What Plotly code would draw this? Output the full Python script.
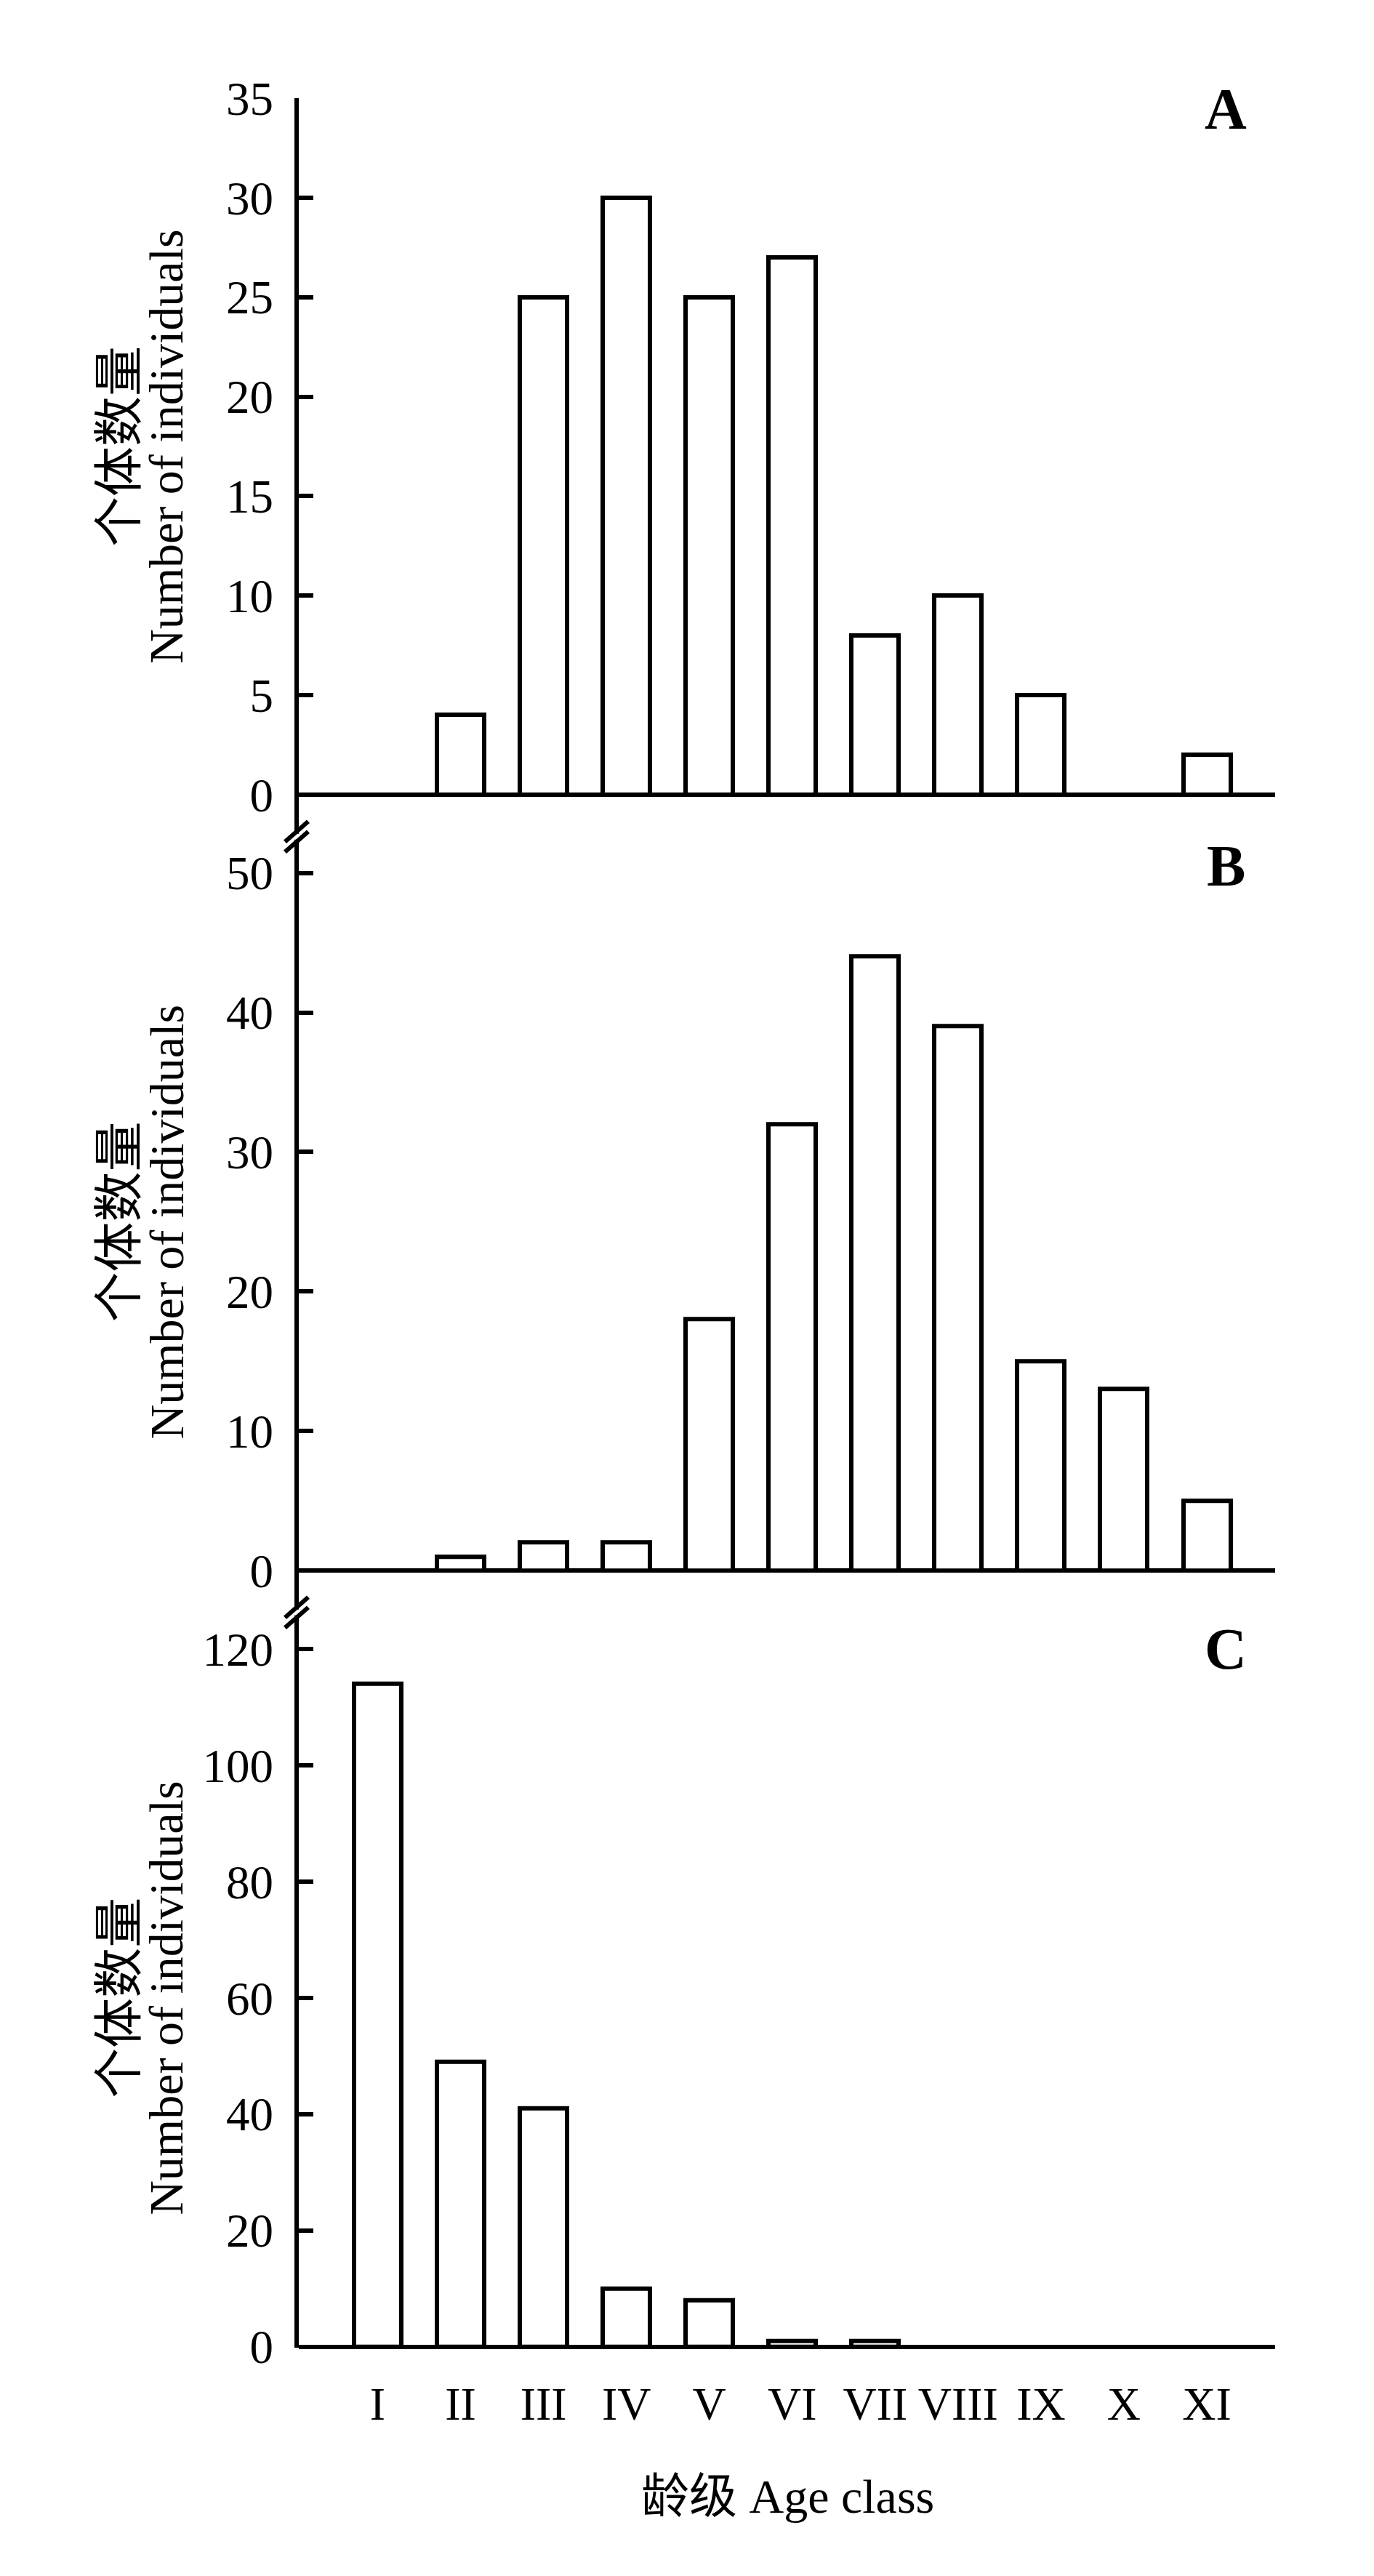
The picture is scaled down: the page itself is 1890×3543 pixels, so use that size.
import plotly.graph_objects as go

# ---------------- data ----------------
age_classes = ["I", "II", "III", "IV", "V", "VI", "VII", "VIII", "IX", "X", "XI"]
counts_a = [0, 4, 25, 30, 25, 27, 8, 10, 5, 0, 2]
counts_b = [0, 1, 2, 2, 18, 32, 44, 39, 15, 13, 5]
counts_c = [114, 49, 41, 10, 8, 1, 1, 0, 0, 0, 0]
panel_labels = ["A", "B", "C"]
tick_max = [35, 50, 120]
tick_step = [5, 10, 20]
y_title_cn = "个体数量"
y_title_en = "Number of individuals"
x_title = "龄级 Age class"

# ---------------- geometry (target pixels) ----------------
OFF = 8                                  # browser body margin
W, H = 1890 - 2 * OFF, 3543 - 2 * OFF
LW = 6
AX_X = 408                               # y-axis line centre
L, R = AX_X + LW / 2, 1754
zero_px = [1093, 2160.5, 3228]           # y pixel of value 0 in each panel
maxtick_px = [135, 1200.8, 2268.5]       # y pixel of the highest tick
PAD = 1.5                                # keep 0 just inside the range
dom_bot = [z + PAD for z in zero_px]
dom_top = [135, dom_bot[0], dom_bot[1]]
TOP, BOT = dom_top[0], dom_bot[2]
PH = BOT - TOP
break_px = [1151, 2218]
label_px = [150, 1191, 2268]
cat_first, cat_step = 519.5, 114.05

def ypap(p):
    return (BOT - p) / PH

def xpap(p):
    return (p - L) / (R - L)

FONT = "Liberation Serif, Times New Roman, Noto Sans CJK SC, serif"

fig = go.Figure()
series = [counts_a, counts_b, counts_c]
xr = [(L - cat_first) / cat_step, (R - cat_first) / cat_step]

for i, vals in enumerate(series):
    n = "" if i == 0 else str(i + 1)
    fig.add_trace(go.Bar(
        x=age_classes, y=vals, width=0.57,
        marker=dict(color="white",
                    line=dict(color="black", width=[LW if v else 0 for v in vals])),
        xaxis="x" + n, yaxis="y" + n, showlegend=False, hoverinfo="x+y",
    ))
    ppu = (zero_px[i] - maxtick_px[i]) / tick_max[i]
    rng = [(zero_px[i] - dom_bot[i]) / ppu, (zero_px[i] - dom_top[i]) / ppu]
    fig.layout["xaxis" + n] = dict(
        domain=[0, 1], anchor="y" + n, type="category", range=xr,
        showline=False, ticks="",
        showgrid=False, zeroline=False,
        showticklabels=(i == 2), ticklabelstandoff=34,
        tickfont=dict(family=FONT, size=64, color="black"),
    )
    fig.layout["yaxis" + n] = dict(
        domain=[ypap(dom_bot[i]), ypap(dom_top[i])], anchor="x" + n,
        range=rng,
        tickvals=list(range(0, tick_max[i] + 1, tick_step[i])),
        ticks="inside", ticklen=20, tickwidth=LW, tickcolor="black",
        showline=True, linecolor="black", linewidth=LW,
        showgrid=False,
        zeroline=True, zerolinecolor="black", zerolinewidth=LW,
        ticklabelstandoff=16,
        tickfont=dict(family=FONT, size=65, color="black"),
    )
    mid = (zero_px[i] + maxtick_px[i]) / 2
    fig.add_annotation(text=y_title_cn, textangle=-90, xref="paper", yref="paper",
                       x=xpap(165), y=ypap(mid), xanchor="center", yanchor="middle",
                       showarrow=False, font=dict(family=FONT, size=69, color="black"))
    fig.add_annotation(text=y_title_en, textangle=-90, xref="paper", yref="paper",
                       x=xpap(229), y=ypap(mid), xanchor="center", yanchor="middle",
                       showarrow=False, font=dict(family=FONT, size=66, color="black"))
    fig.add_annotation(text="<b>" + panel_labels[i] + "</b>", xref="paper", yref="paper",
                       x=xpap(1686), y=ypap(label_px[i]), xanchor="center", yanchor="middle",
                       showarrow=False, font=dict(family=FONT, size=80, color="black"))

fig.add_annotation(text=x_title, xref="paper", yref="paper",
                   x=xpap(1083), y=ypap(3434), xanchor="center", yanchor="middle",
                   showarrow=False, font=dict(family=FONT, size=66, color="black"))

# axis break marks
shapes = []
for b in break_px:
    shapes.append(dict(type="line", xref="paper", yref="paper", layer="above",
                       x0=xpap(AX_X), x1=xpap(AX_X), y0=ypap(b - 4), y1=ypap(b + 4),
                       line=dict(color="white", width=12)))
    for off in (-7, 7):
        c = b + off
        shapes.append(dict(type="line", xref="paper", yref="paper", layer="above",
                           x0=xpap(AX_X - 16), y0=ypap(c + 14),
                           x1=xpap(AX_X + 16), y1=ypap(c - 14),
                           line=dict(color="black", width=LW)))
fig.update_layout(shapes=shapes)

fig.update_layout(
    width=W, height=H,
    margin=dict(l=L - OFF, r=W - (R - OFF), t=TOP - OFF, b=H - (BOT - OFF)),
    paper_bgcolor="white", plot_bgcolor="white",
    bargap=0, showlegend=False,
    font=dict(family=FONT, size=64, color="black"),
)

fig.write_html("out.html")
